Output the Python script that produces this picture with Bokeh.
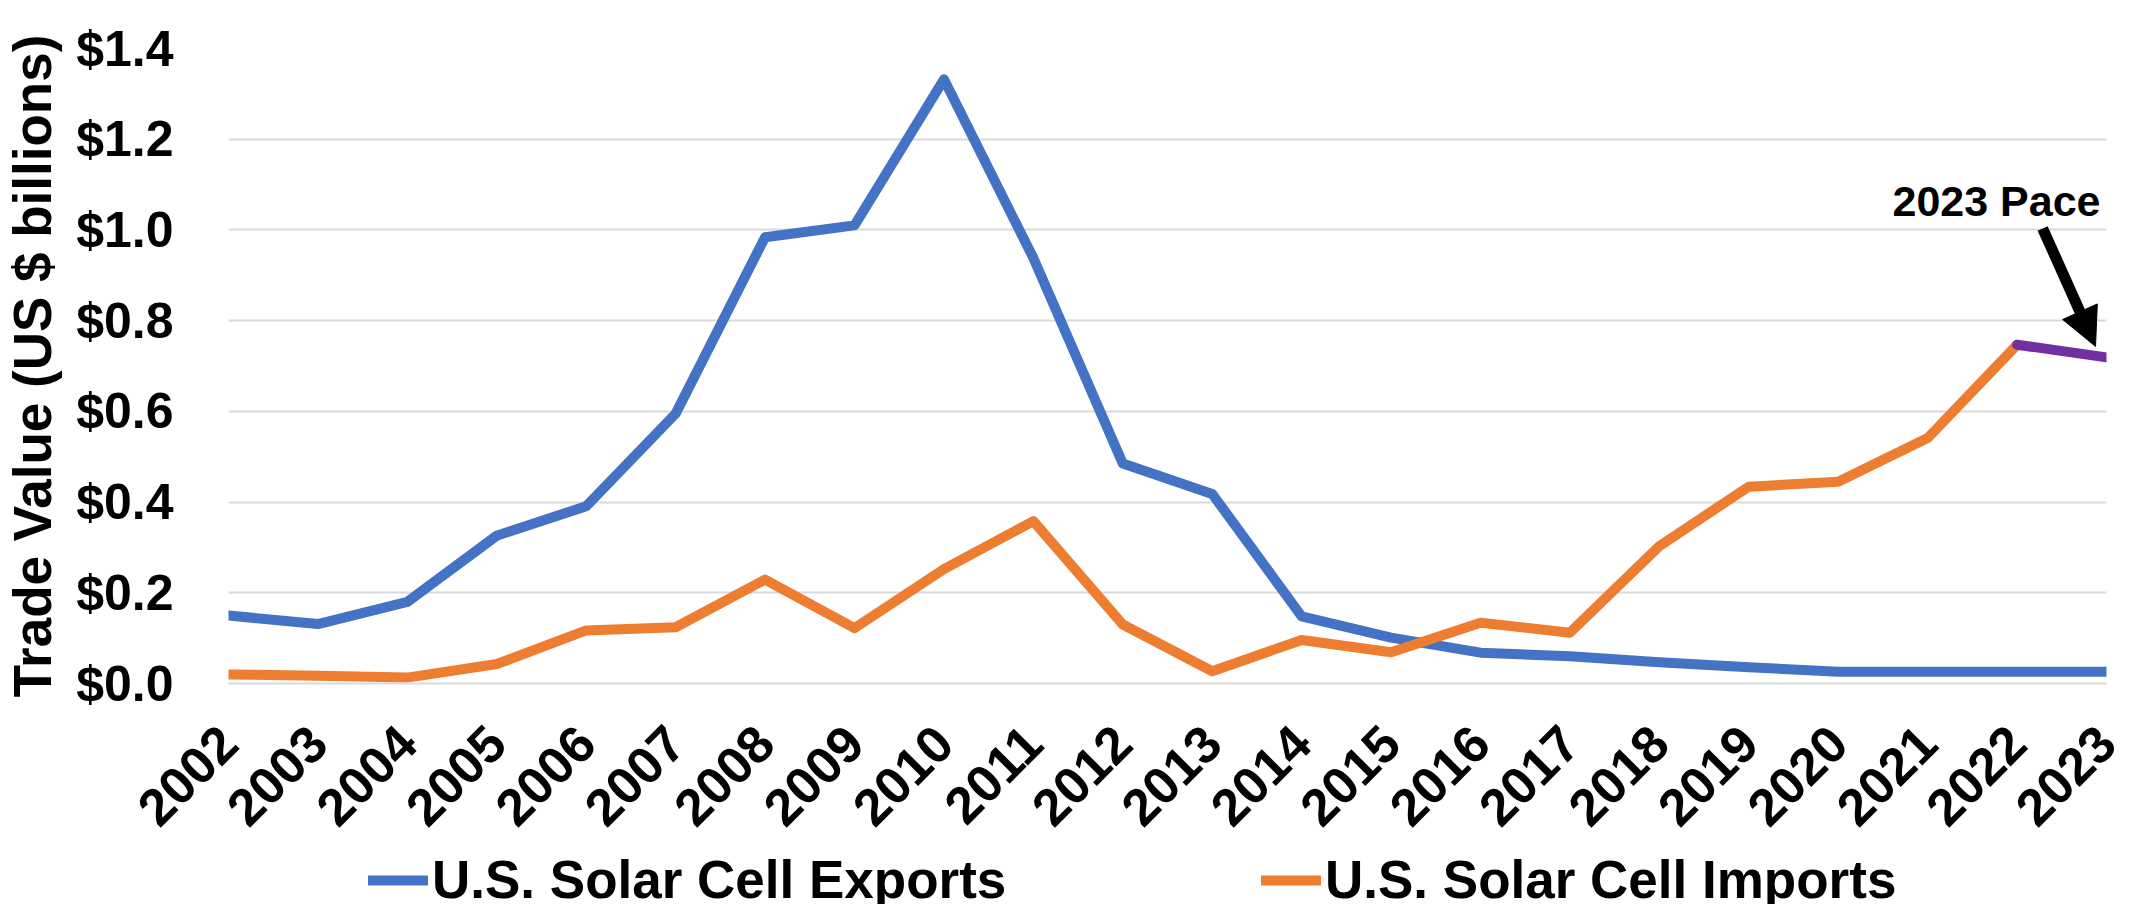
import math
from bokeh.plotting import figure
from bokeh.layouts import column
from bokeh.models import (Range1d, FixedTicker, PrintfTickFormatter, Legend, LegendItem,
                          Label, Arrow, NormalHead)
from bokeh.embed import file_html
from bokeh.resources import INLINE

# ---------------- data ----------------
years = list(range(2002, 2024))
exports = [0.150, 0.131, 0.180, 0.326, 0.391, 0.595, 0.984, 1.010, 1.332, 0.938, 0.485,
           0.418, 0.148, 0.101, 0.068, 0.060, 0.047, 0.036, 0.026, 0.026, 0.026, 0.026]
imports = [0.020, 0.017, 0.013, 0.043, 0.117, 0.124, 0.229, 0.122, 0.252, 0.358, 0.130,
           0.027, 0.096, 0.069, 0.134, 0.112, 0.303, 0.434, 0.445, 0.541, 0.747, 0.719]
y_ticks = [0.0, 0.2, 0.4, 0.6, 0.8, 1.0, 1.2, 1.4]
series_names = ["U.S. Solar Cell Exports", "U.S. Solar Cell Imports"]
pace_label = "2023 Pace"
y_title = "Trade Value (US $ billions)"

# ---------------- style ----------------
FONT = "Liberation Sans"
BLUE, ORANGE, PURPLE = "#4472C4", "#ED7D31", "#7030A0"
GRID = "#d9d9d9"
W = 2122
H1, H2 = 856, 48
ML, MR, MT, MB = 224, 16, 48, 173
LW = 10

p = figure(width=W, height=H1, x_range=Range1d(years[0], years[-1]),
           y_range=Range1d(y_ticks[0], y_ticks[-1]),
           output_backend="svg", toolbar_location=None,
           min_border_left=ML, min_border_right=MR, min_border_top=MT, min_border_bottom=MB)
p.outline_line_color = None
p.background_fill_color = "white"
p.border_fill_color = "white"
p.xgrid.visible = False
p.ygrid.ticker = FixedTicker(ticks=y_ticks)
p.ygrid.grid_line_color = GRID
p.ygrid.grid_line_width = 2

line_style = dict(line_width=LW, line_cap="round", line_join="round")
r_exp = p.line(years, exports, line_color=BLUE, **line_style)
r_imp = p.line(years[:-1], imports[:-1], line_color=ORANGE, **line_style)
r_pace = p.line(years[-2:], imports[-2:], line_color=PURPLE, **line_style)

# y axis
yax = p.yaxis[0]
yax.ticker = FixedTicker(ticks=y_ticks)
yax.formatter = PrintfTickFormatter(format="$%.1f")
yax.major_label_text_font = FONT
yax.major_label_text_font_style = "bold"
yax.major_label_text_font_size = "50px"
yax.major_label_text_color = "black"
yax.major_label_standoff = 49
yax.major_tick_line_color = None
yax.minor_tick_line_color = None
yax.axis_line_color = None
yax.axis_label = y_title
yax.axis_label_text_font = FONT
yax.axis_label_text_font_style = "bold"
yax.axis_label_text_font_size = "53px"
yax.axis_label_text_color = "black"
yax.axis_label_standoff = 11

# x axis
xax = p.xaxis[0]
xax.ticker = FixedTicker(ticks=years)
xax.major_label_overrides = {y: str(y) for y in years}
xax.major_label_orientation = math.pi / 4
xax.major_label_text_font = FONT
xax.major_label_text_font_style = "bold"
xax.major_label_text_font_size = "52px"
xax.major_label_text_color = "black"
xax.major_label_standoff = 45
xax.major_tick_line_color = None
xax.minor_tick_line_color = None
xax.axis_line_color = GRID
xax.axis_line_width = 2

# "2023 Pace" annotation, placed relative to last data point
px_x = (years[-1] - years[0]) / (W - ML - MR)
px_y = (y_ticks[-1] - y_ticks[0]) / (H1 - MT - MB)
p.add_layout(Label(x=years[-1], y=imports[-1], x_offset=-110, y_offset=156, text=pace_label,
                   text_align="center", text_baseline="alphabetic", text_font=FONT,
                   text_font_style="bold", text_font_size="43px", text_color="black"))
p.add_layout(Arrow(end=NormalHead(size=38, fill_color="black", line_color="black"),
                   x_start=years[-1] - 64 * px_x, y_start=imports[-1] + 129 * px_y,
                   x_end=years[-1] - 11 * px_x, y_end=imports[-1] + 11 * px_y,
                   line_width=11, line_color="black"))

# ---------------- legend strip ----------------
# same series drawn again (outside this strip's visible range) so the legend gets its glyphs
lg = figure(width=W, height=H2, x_range=Range1d(0, 1), y_range=Range1d(0, 1),
            output_backend="svg", toolbar_location=None,
            x_axis_location=None, y_axis_location=None,
            min_border_left=0, min_border_right=0, min_border_top=0, min_border_bottom=0)
lg.outline_line_color = None
lg.xgrid.visible = False
lg.ygrid.visible = False
lg.background_fill_color = "white"
lg.border_fill_color = "white"
g_exp = lg.line(years, exports, line_color=BLUE, **line_style)
g_imp = lg.line(years[:-1], imports[:-1], line_color=ORANGE, **line_style)
legend = Legend(items=[LegendItem(label=series_names[0], renderers=[g_exp]),
                       LegendItem(label=series_names[1], renderers=[g_imp])],
                orientation="horizontal", location=(140, -6), padding=0, margin=0, spacing=0,
                glyph_width=60, glyph_height=56, label_height=56, label_width=829, label_standoff=4,
                label_text_font=FONT, label_text_font_style="bold", label_text_font_size="53px",
                label_text_color="black",
                background_fill_alpha=0, border_line_color=None)
lg.add_layout(legend)

layout = column(p, lg, spacing=0)
open("out.html", "w").write(file_html(layout, INLINE))
